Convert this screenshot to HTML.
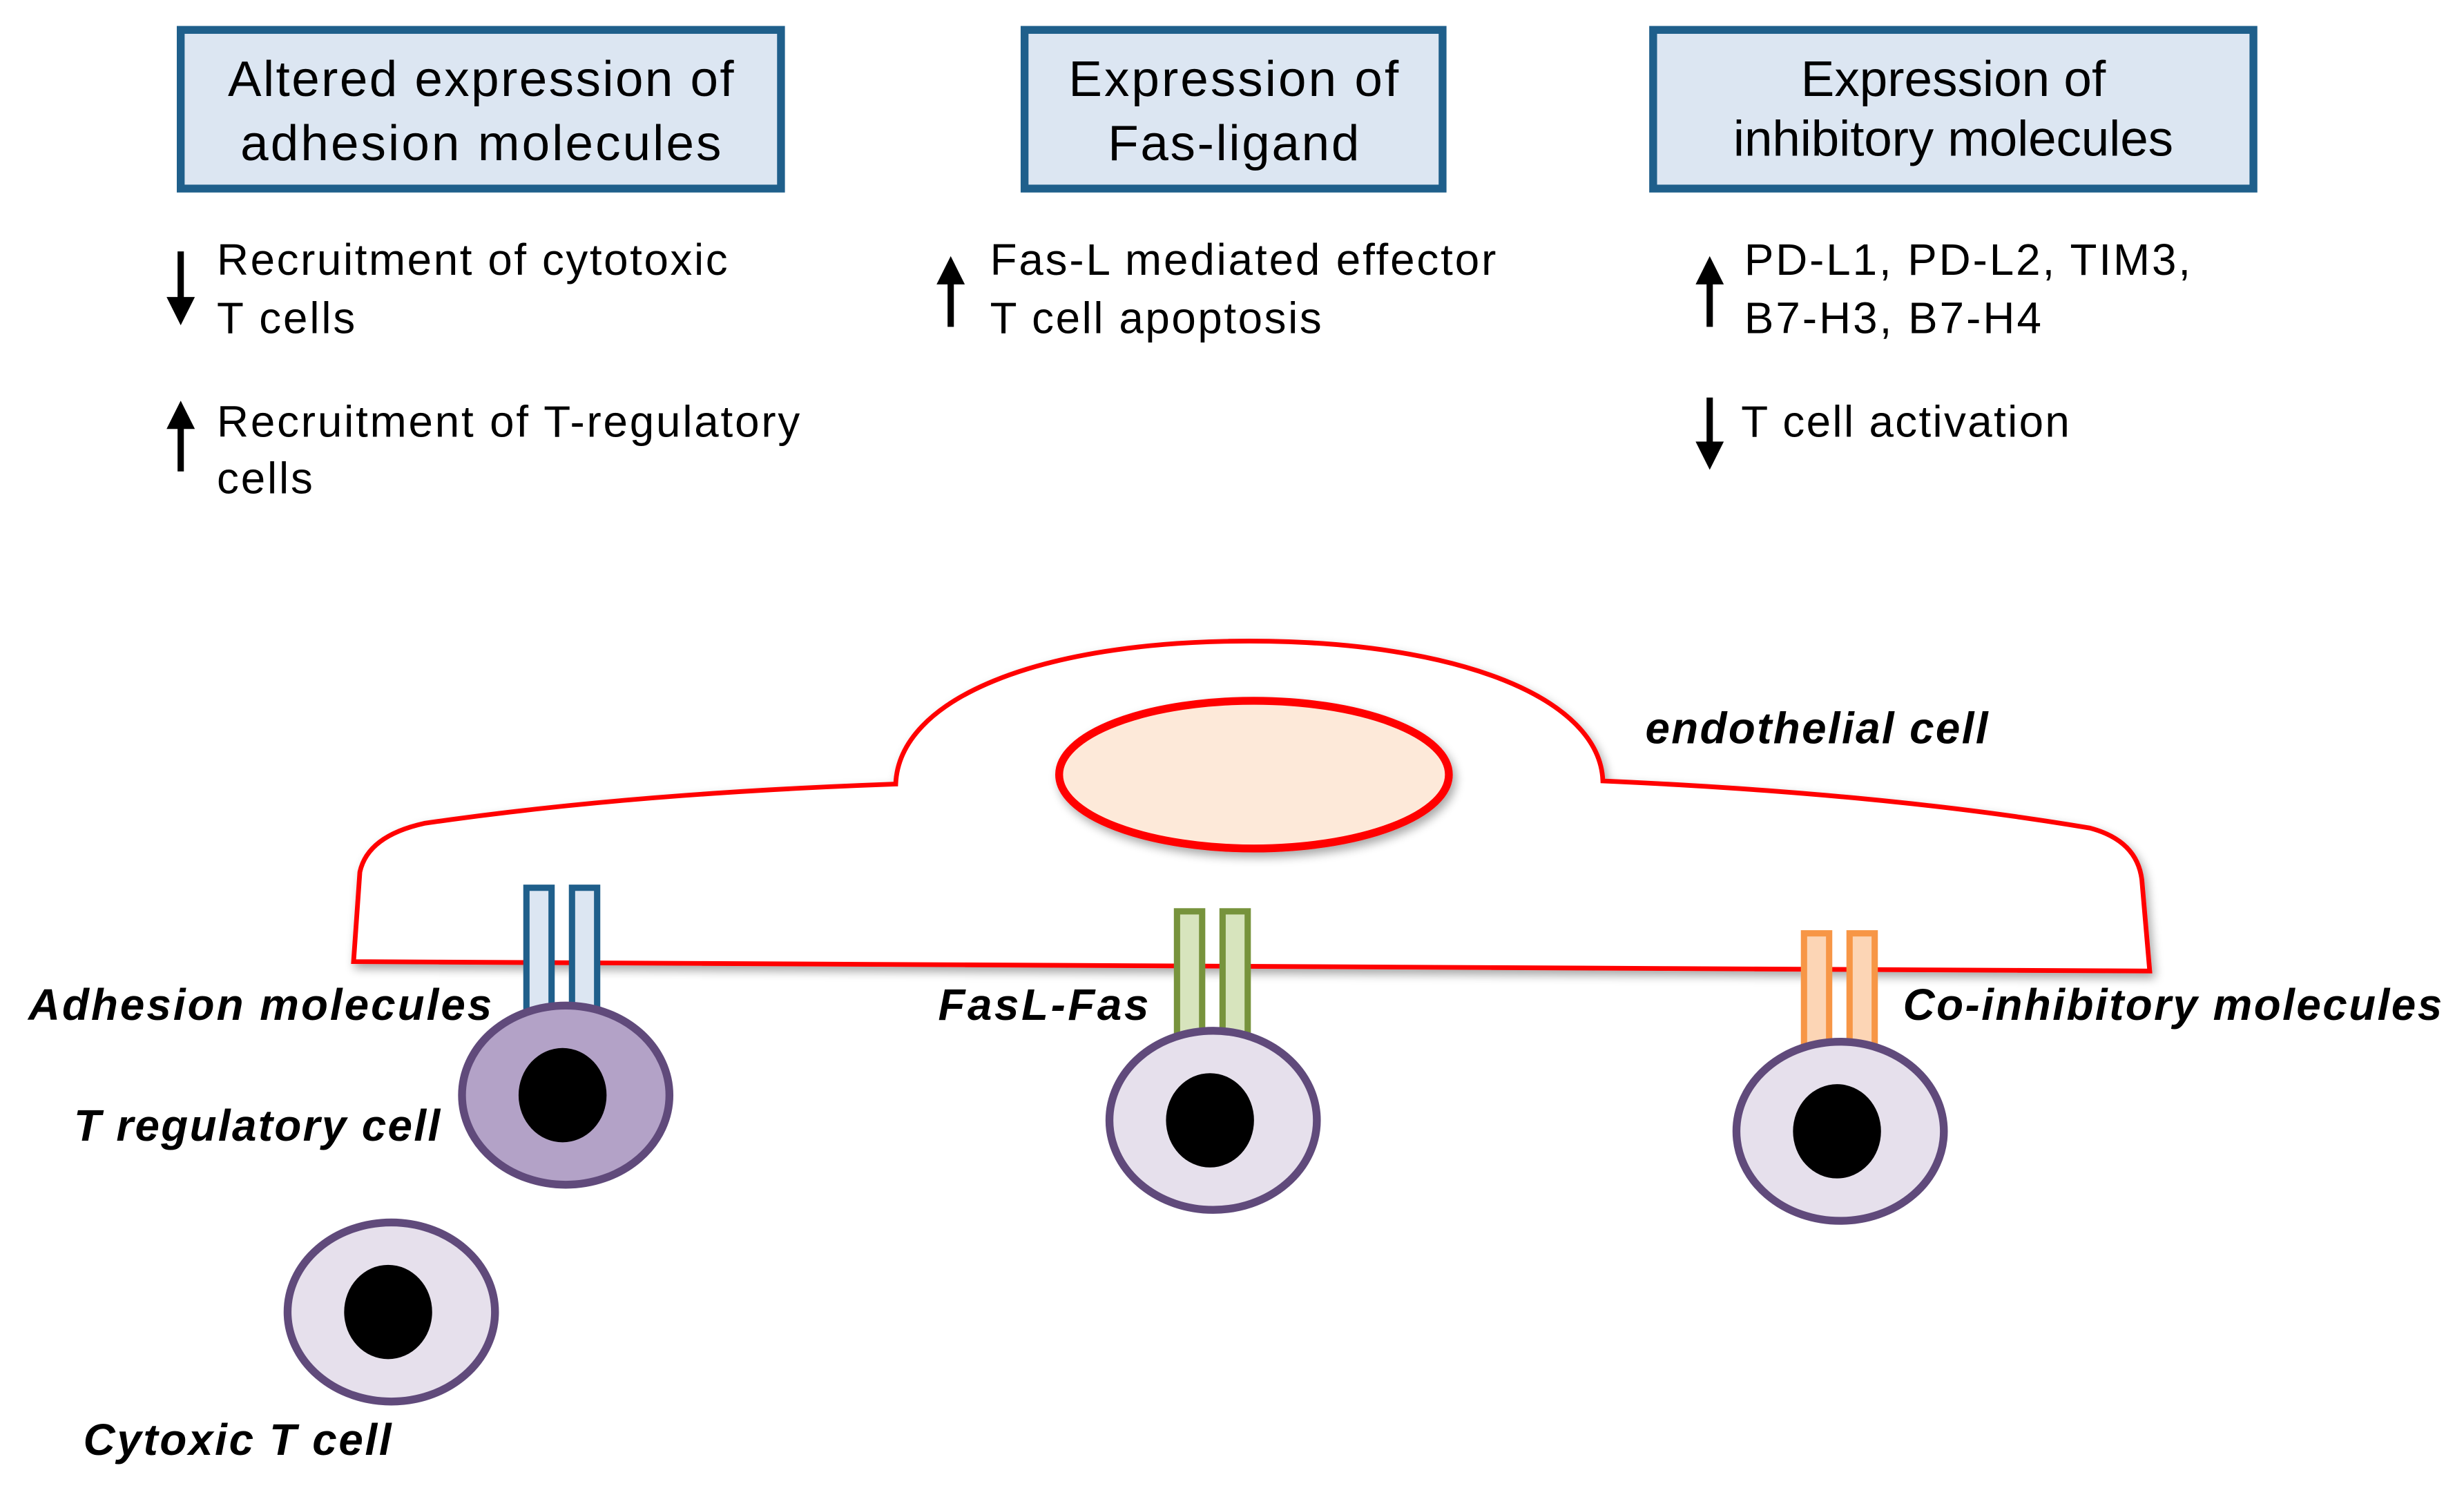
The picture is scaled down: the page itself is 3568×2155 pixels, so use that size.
<!DOCTYPE html>
<html><head><meta charset="utf-8"><style>
html,body{margin:0;padding:0;background:#fff}
svg{display:block}
text{font-family:"Liberation Sans",sans-serif}
.h{font-size:32px;fill:#000;text-anchor:middle}
.b{font-size:28px;fill:#000}
.l{font-size:28px;font-weight:bold;font-style:italic;fill:#000}
</style></head><body>
<svg width="3568" height="2155" viewBox="0 0 1568 947" xmlns="http://www.w3.org/2000/svg">
<defs>
<marker id="ah" viewBox="0 0 10 10" refX="5" refY="5" markerWidth="4.5" markerHeight="4.5" orient="auto-start-reverse"><path d="M0,0 L10,5 L0,10 z" fill="#000"/></marker>
<filter id="sh" x="-10%" y="-10%" width="120%" height="130%"><feGaussianBlur in="SourceAlpha" stdDeviation="3"/><feOffset dx="2" dy="3"/><feComponentTransfer><feFuncA type="linear" slope="0.35"/></feComponentTransfer><feMerge><feMergeNode/><feMergeNode in="SourceGraphic"/></feMerge></filter>
</defs>
<rect x="115" y="19" width="382" height="101" fill="#dce6f2" stroke="#1f5f8b" stroke-width="5"/>
<rect x="652" y="19" width="266" height="101" fill="#dce6f2" stroke="#1f5f8b" stroke-width="5"/>
<rect x="1052" y="19" width="382" height="101" fill="#dce6f2" stroke="#1f5f8b" stroke-width="5"/>
<text class="h" x="306" y="61" textLength="322">Altered expression of</text>
<text class="h" x="306" y="102" textLength="306">adhesion molecules</text>
<text class="h" x="785" y="61" textLength="210">Expression of</text>
<text class="h" x="785" y="102" textLength="160">Fas-ligand</text>
<text class="h" x="1243" y="61" textLength="194">Expression of</text>
<text class="h" x="1243" y="99" textLength="280">inhibitory molecules</text>
<text class="b" x="138" y="175" textLength="325">Recruitment of cytotoxic</text>
<text class="b" x="138" y="212" textLength="88">T cells</text>
<text class="b" x="138" y="278" textLength="371">Recruitment of T-regulatory</text>
<text class="b" x="138" y="314" textLength="61">cells</text>
<text class="b" x="630" y="175" textLength="322">Fas-L mediated effector</text>
<text class="b" x="630" y="212" textLength="211">T cell apoptosis</text>
<text class="b" x="1110" y="175" textLength="284">PD-L1, PD-L2, TIM3,</text>
<text class="b" x="1110" y="212" textLength="189">B7-H3, B7-H4</text>
<text class="b" x="1108" y="278" textLength="209">T cell activation</text>
<g stroke="#000" stroke-width="4">
<line x1="115" y1="160" x2="115" y2="198" marker-end="url(#ah)"/>
<line x1="115" y1="300" x2="115" y2="264" marker-end="url(#ah)"/>
<line x1="605" y1="208" x2="605" y2="172" marker-end="url(#ah)"/>
<line x1="1088" y1="208" x2="1088" y2="172" marker-end="url(#ah)"/>
<line x1="1088" y1="253" x2="1088" y2="290" marker-end="url(#ah)"/>
</g>
<path filter="url(#sh)" d="M225,612 L229,555 Q234,532 270,524 Q400,505 570,499 C572,445 660,408 795,408 C930,408 1018,445 1020,497 Q1200,505 1330,527 Q1360,535 1363,560 L1368,618 Z" fill="#fff" stroke="#ff0000" stroke-width="3"/>
<ellipse filter="url(#sh)" cx="798" cy="493" rx="124" ry="47" fill="#fde9d9" stroke="#ff0000" stroke-width="5"/>
<text class="l" x="1047" y="473" textLength="218">endothelial cell</text>
<g stroke-width="4">
<rect x="335" y="565" width="16" height="78" fill="#dce6f2" stroke="#1f5f8b"/>
<rect x="364" y="565" width="16" height="78" fill="#dce6f2" stroke="#1f5f8b"/>
<rect x="749" y="580" width="16" height="80" fill="#d7e4bd" stroke="#77933c"/>
<rect x="778" y="580" width="16" height="80" fill="#d7e4bd" stroke="#77933c"/>
<rect x="1148" y="594" width="16" height="74" fill="#fcd5b5" stroke="#f79646"/>
<rect x="1177" y="594" width="16" height="74" fill="#fcd5b5" stroke="#f79646"/>
</g>
<g stroke="#604a7b" stroke-width="5">
<ellipse cx="360" cy="697" rx="66" ry="57" fill="#b3a2c7"/>
<ellipse cx="772" cy="713" rx="66" ry="57" fill="#e6e0ec"/>
<ellipse cx="1171" cy="720" rx="66" ry="57" fill="#e6e0ec"/>
<ellipse cx="249" cy="835" rx="66" ry="57" fill="#e6e0ec"/>
</g>
<ellipse cx="358" cy="697" rx="28" ry="30" fill="#000"/>
<ellipse cx="770" cy="713" rx="28" ry="30" fill="#000"/>
<ellipse cx="1169" cy="720" rx="28" ry="30" fill="#000"/>
<ellipse cx="247" cy="835" rx="28" ry="30" fill="#000"/>
<text class="l" x="18" y="649" textLength="295">Adhesion molecules</text>
<text class="l" x="597" y="649" textLength="134">FasL-Fas</text>
<text class="l" x="1211" y="649" textLength="343">Co-inhibitory molecules</text>
<text class="l" x="47" y="726" textLength="233">T regulatory cell</text>
<text class="l" x="53" y="926" textLength="196">Cytoxic T cell</text>
</svg>
</body></html>
